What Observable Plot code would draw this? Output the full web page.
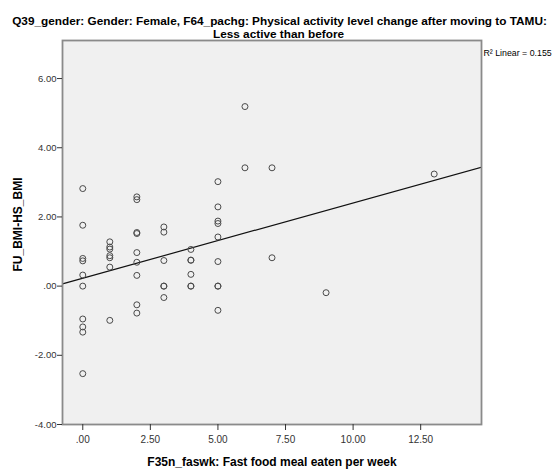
<!DOCTYPE html>
<html>
<head>
<meta charset="utf-8">
<script src="https://cdn.jsdelivr.net/npm/d3@7"></script>
<script src="https://cdn.jsdelivr.net/npm/@observablehq/plot@0.6"></script>
<style>
  html, body { margin: 0; padding: 0; background: #fff; }
</style>
</head>
<body>
<div id="chart"></div>
<script>
// ---- data ----
const fastFoodPerWeek = [
  0,0,0,0,0,0,0,0,0,0,
  1,1,1,1,1,1,1,
  2,2,2,2,2,2,2,2,2,
  3,3,3,3,3,3,
  4,4,4,4,4,4,
  5,5,5,5,5,5,5,5,5,
  6,6,
  7,7,
  9,
  13
];
const bmiChange = [
  2.82,1.76,0.80,0.73,0.32,0.00,-0.95,-1.18,-1.33,-2.53,
  1.28,1.13,1.07,0.88,0.82,0.55,-0.99,
  2.58,2.50,1.55,1.52,0.97,0.69,0.31,-0.54,-0.78,
  1.71,1.56,0.74,0.00,0.00,-0.33,
  1.06,0.75,0.75,0.34,0.00,0.00,
  3.02,2.29,1.88,1.81,1.42,0.71,0.00,0.00,-0.70,
  5.19,3.42,
  3.42,0.82,
  -0.19,
  3.24
];
const xTicks = [0, 2.5, 5, 7.5, 10, 12.5];
const xTickLabels = [".00", "2.50", "5.00", "7.50", "10.00", "12.50"];
const yTicks = [-4, -2, 0, 2, 4, 6];
const yTickLabels = ["-4.00", "-2.00", ".00", "2.00", "4.00", "6.00"];
const titleLines = [
  "Q39_gender: Gender: Female, F64_pachg: Physical activity level change after moving to TAMU:",
  "Less active than before"
];
const xLabel = "F35n_faswk: Fast food meal eaten per week";
const yLabel = "FU_BMI-HS_BMI";
const fitLabel = "R\u00B2 Linear = 0.155";
const xDomain = [-0.75, 14.75];
const yDomain = [-4, 7.1];

// ---- derived ----
const points = fastFoodPerWeek.map((x, i) => ({x, y: bmiChange[i]}));
const mx = d3.mean(fastFoodPerWeek), my = d3.mean(bmiChange);
const sxy = d3.sum(points, d => (d.x - mx) * (d.y - my));
const sxx = d3.sum(points, d => (d.x - mx) ** 2);
const slope = sxy / sxx, intercept = my - slope * mx;
const fitLine = xDomain.map(x => ({x, y: intercept + slope * x}));

const sans = "'Liberation Sans', Arial, sans-serif";

const chart = Plot.plot({
  width: 558,
  height: 471,
  marginTop: 40,
  marginLeft: 62,
  marginRight: 77,
  marginBottom: 47,
  style: {fontFamily: sans, fontSize: "9.5px", background: "#fff", color: "#222"},
  x: {domain: xDomain},
  y: {domain: yDomain},
  marks: [
    Plot.frame({fill: "#f0f0f0"}),
    Plot.line(fitLine, {x: "x", y: "y", stroke: "#111", strokeWidth: 1.2, clip: true}),
    Plot.dot(points, {x: "x", y: "y", r: 3, stroke: "#4a4a4a", fill: "none", strokeWidth: 1}),
    Plot.frame({stroke: "#8a8a8a", strokeWidth: 1.8}),
    Plot.axisX({ticks: xTicks, tickFormat: d => xTickLabels[xTicks.indexOf(d)], tickSize: 6, tickPadding: 5, label: null, stroke: "#333", fill: "#333", fontSize: 10}),
    Plot.axisY({ticks: yTicks, tickFormat: d => yTickLabels[yTicks.indexOf(d)], tickSize: 5, tickPadding: 1, label: null, stroke: "#333", fill: "#333", fontSize: 9.5}),
    Plot.text([titleLines[0]], {text: d => d, frameAnchor: "top", textAnchor: "middle", dx: 7.5, dy: -24, fontWeight: "bold", fontSize: 11.8, fill: "#000"}),
    Plot.text([titleLines[1]], {text: d => d, frameAnchor: "top", textAnchor: "middle", dx: 6.5, dy: -11, fontWeight: "bold", fontSize: 11.8, fill: "#000"}),
    Plot.text([fitLabel], {text: d => d, frameAnchor: "top-right", textAnchor: "start", dx: 2, dy: 9, fontSize: 8.8, fill: "#000"}),
    Plot.text([yLabel], {text: d => d, frameAnchor: "left", textAnchor: "middle", rotate: -90, dx: -44.5, dy: -8, fontWeight: "bold", fontSize: 12, fill: "#000"}),
    Plot.text([xLabel], {text: d => d, frameAnchor: "bottom", textAnchor: "middle", dy: 41, fontWeight: "bold", fontSize: 12, fill: "#000"})
  ]
});
document.getElementById("chart").appendChild(chart);
</script>
</body>
</html>
